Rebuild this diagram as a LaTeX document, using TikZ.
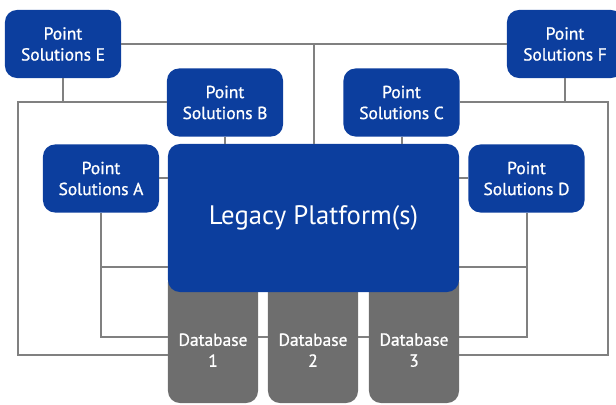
\documentclass[tikz,border=0pt]{standalone}
\usepackage{fontspec}
\setmainfont{PT Sans}
\newfontfamily\labelfont[FakeBold=0.9]{PT Sans}
\usetikzlibrary{calc}

\definecolor{psblue}{RGB}{12,62,158}
\definecolor{dbgray}{RGB}{110,110,110}
\definecolor{linegray}{RGB}{128,128,128}

\tikzset{
  solbox/.style={fill=psblue, text=white, rounded corners=0.3cm, inner sep=0pt,
    minimum width=2.9cm, minimum height=1.7cm, align=center,
    font=\labelfont\fontsize{12.4}{14.9}\selectfont},
  platbox/.style={solbox, minimum width=7.275cm, minimum height=3.7cm,
    font=\normalfont\fontsize{19}{23}\selectfont},
  dbbox/.style={fill=dbgray, rounded corners=0.3cm, inner sep=0pt,
    minimum width=2.25cm, minimum height=3.325cm},
  dbtext/.style={text=white, align=center, yshift=-0.34cm,
    font=\labelfont\fontsize{12.4}{14.9}\selectfont},
  wire/.style={draw=linegray, line width=0.05cm}
}

\begin{document}
\begin{tikzpicture}[x=0.025cm, y=-0.025cm]
  \useasboundingbox (0, 0) rectangle (616, 405);
  \clip (0, 0) rectangle (616, 405);
  \def\ymid{267}
  \def\ylow{337}
  \def\yrail{355}
  % databases first, the platform hides their tops
  \node[dbbox, label={[dbtext]center:Database\\1}] (db1) at (213, 336.5) {};
  \node[dbbox, label={[dbtext]center:Database\\2}] (db2) at (313, 336.5) {};
  \node[dbbox, label={[dbtext]center:Database\\3}] (db3) at (414, 336.5) {};
  \node[platbox] (L) at (313.5, 218) {Legacy Platform(s)};
  \node[solbox] (E) at (63, 44) {Point\\Solutions E};
  \node[solbox] (F) at (565, 44) {Point\\Solutions F};
  \node[solbox] (B) at (225, 102.5) {Point\\Solutions B};
  \node[solbox] (C) at (401.5, 102.5) {Point\\Solutions C};
  \node[solbox] (A) at (101, 178.5) {Point\\Solutions A};
  \node[solbox] (D) at (526.5, 178.5) {Point\\Solutions D};
  \coordinate (lrail) at (18, \yrail);
  \coordinate (rrail) at (608, \yrail);
  % top bus
  \draw[wire] (E.east) -- (F.west);
  \draw[wire] (E.east -| L.north) -- (L.north);
  % outer rails
  \draw[wire] (E.south) -- (E.south |- B.west);
  \draw[wire] (B.west) -| (lrail) -- (lrail -| db1.west);
  \draw[wire] (F.south) -- (F.south |- C.east);
  \draw[wire] (C.east) -| (rrail) -- (rrail -| db3.east);
  % short links to the platform
  \draw[wire] (B.south) -- (B.south |- L.north);
  \draw[wire] (C.south) -- (C.south |- L.north);
  \draw[wire] (A.east) -- (A.east -| L.west);
  \draw[wire] (D.west) -- (D.west -| L.east);
  % inner rails
  \draw[wire] (A.south) |- (db1.west |- 0, \ylow);
  \draw[wire] (A.south |- 0, \ymid) -- (L.west |- 0, \ymid);
  \draw[wire] (D.south) |- (db3.east |- 0, \ylow);
  \draw[wire] (D.south |- 0, \ymid) -- (L.east |- 0, \ymid);
  \draw[wire] (db1.east |- 0, \ylow) -- (db2.west |- 0, \ylow);
  \draw[wire] (db2.east |- 0, \ylow) -- (db3.west |- 0, \ylow);
\end{tikzpicture}
\end{document}
